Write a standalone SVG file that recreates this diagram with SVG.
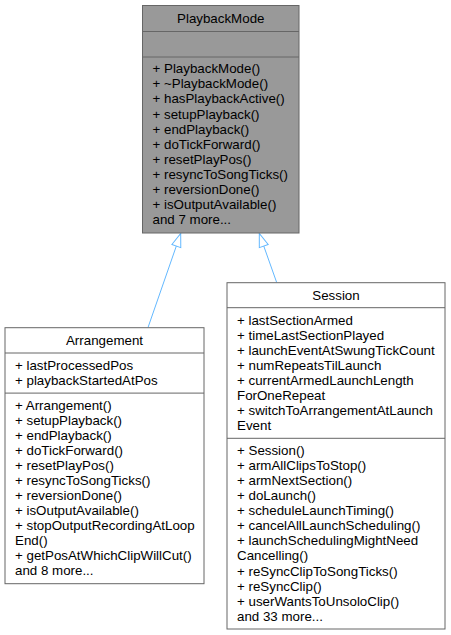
<svg xmlns="http://www.w3.org/2000/svg" width="451" height="635" viewBox="0 0 451 635">
<style>
.box{fill:#ffffff;stroke:#666666;stroke-width:1}
.cur{fill:#999999;stroke:#666666;stroke-width:1}
.div{stroke:#666666;stroke-width:1;fill:none}
text{font-family:"Liberation Sans",Arial,Helvetica,sans-serif;font-size:13.33px;fill:#000000}
.t{text-anchor:middle}
.edge{stroke:#63b8ff;stroke-width:1;fill:none}
</style>
<defs>
<marker id="inh" viewBox="-1 -6 16 12" refX="13.3" refY="0" markerWidth="16" markerHeight="12" markerUnits="userSpaceOnUse" orient="auto">
<path d="M0,-4.7 L13.3,0 L0,4.7 Z" fill="#ffffff" stroke="#63b8ff" stroke-width="1"/>
</marker>
</defs>
<rect width="451" height="635" fill="#ffffff"/>
<g id="connectors">
<line class="edge" x1="148" y1="327.5" x2="180.7" y2="233.5" marker-end="url(#inh)"/>
<line class="edge" x1="276.7" y1="282.5" x2="259.3" y2="233.5" marker-end="url(#inh)"/>
</g>
<g id="PlaybackMode">
<rect class="cur" x="142.5" y="5.5" width="156.5" height="227.5"/>
<line class="div" x1="142.5" y1="31.5" x2="299" y2="31.5"/>
<line class="div" x1="142.5" y1="57" x2="299" y2="57"/>
<text class="t" x="220.75" y="23">PlaybackMode</text>
<text x="152.5" y="73.3">
<tspan x="152.5">+ PlaybackMode()</tspan>
<tspan x="152.5" dy="15.07">+ ~PlaybackMode()</tspan>
<tspan x="152.5" dy="15.07">+ hasPlaybackActive()</tspan>
<tspan x="152.5" dy="15.07">+ setupPlayback()</tspan>
<tspan x="152.5" dy="15.07">+ endPlayback()</tspan>
<tspan x="152.5" dy="15.07">+ doTickForward()</tspan>
<tspan x="152.5" dy="15.07">+ resetPlayPos()</tspan>
<tspan x="152.5" dy="15.07">+ resyncToSongTicks()</tspan>
<tspan x="152.5" dy="15.07">+ reversionDone()</tspan>
<tspan x="152.5" dy="15.07">+ isOutputAvailable()</tspan>
<tspan x="152.5" dy="15.07">and 7 more...</tspan>
</text>
</g>
<g id="Arrangement">
<rect class="box" x="5" y="327.7" width="199" height="256"/>
<line class="div" x1="5" y1="353" x2="204" y2="353"/>
<line class="div" x1="5" y1="393.1" x2="204" y2="393.1"/>
<text class="t" x="104.5" y="344.7">Arrangement</text>
<text x="15" y="369.5">
<tspan x="15">+ lastProcessedPos</tspan>
<tspan x="15" dy="15.07">+ playbackStartedAtPos</tspan>
</text>
<text x="15" y="409.6">
<tspan x="15">+ Arrangement()</tspan>
<tspan x="15" dy="15.07">+ setupPlayback()</tspan>
<tspan x="15" dy="15.07">+ endPlayback()</tspan>
<tspan x="15" dy="15.07">+ doTickForward()</tspan>
<tspan x="15" dy="15.07">+ resetPlayPos()</tspan>
<tspan x="15" dy="15.07">+ resyncToSongTicks()</tspan>
<tspan x="15" dy="15.07">+ reversionDone()</tspan>
<tspan x="15" dy="15.07">+ isOutputAvailable()</tspan>
<tspan x="15" dy="15.07">+ stopOutputRecordingAtLoop</tspan>
<tspan x="15" dy="15.07">End()</tspan>
<tspan x="15" dy="15.07">+ getPosAtWhichClipWillCut()</tspan>
<tspan x="15" dy="15.07">and 8 more...</tspan>
</text>
</g>
<g id="Session">
<rect class="box" x="227" y="282.7" width="218" height="346.3"/>
<line class="div" x1="227" y1="307.7" x2="445" y2="307.7"/>
<line class="div" x1="227" y1="438.3" x2="445" y2="438.3"/>
<text class="t" x="336" y="299.7">Session</text>
<text x="237" y="325">
<tspan x="237">+ lastSectionArmed</tspan>
<tspan x="237" dy="15.07">+ timeLastSectionPlayed</tspan>
<tspan x="237" dy="15.07">+ launchEventAtSwungTickCount</tspan>
<tspan x="237" dy="15.07">+ numRepeatsTilLaunch</tspan>
<tspan x="237" dy="15.07">+ currentArmedLaunchLength</tspan>
<tspan x="237" dy="15.07">ForOneRepeat</tspan>
<tspan x="237" dy="15.07">+ switchToArrangementAtLaunch</tspan>
<tspan x="237" dy="15.07">Event</tspan>
</text>
<text x="237" y="455">
<tspan x="237">+ Session()</tspan>
<tspan x="237" dy="15.07">+ armAllClipsToStop()</tspan>
<tspan x="237" dy="15.07">+ armNextSection()</tspan>
<tspan x="237" dy="15.07">+ doLaunch()</tspan>
<tspan x="237" dy="15.07">+ scheduleLaunchTiming()</tspan>
<tspan x="237" dy="15.07">+ cancelAllLaunchScheduling()</tspan>
<tspan x="237" dy="15.07">+ launchSchedulingMightNeed</tspan>
<tspan x="237" dy="15.07">Cancelling()</tspan>
<tspan x="237" dy="15.07">+ reSyncClipToSongTicks()</tspan>
<tspan x="237" dy="15.07">+ reSyncClip()</tspan>
<tspan x="237" dy="15.07">+ userWantsToUnsoloClip()</tspan>
<tspan x="237" dy="15.07">and 33 more...</tspan>
</text>
</g>
</svg>
